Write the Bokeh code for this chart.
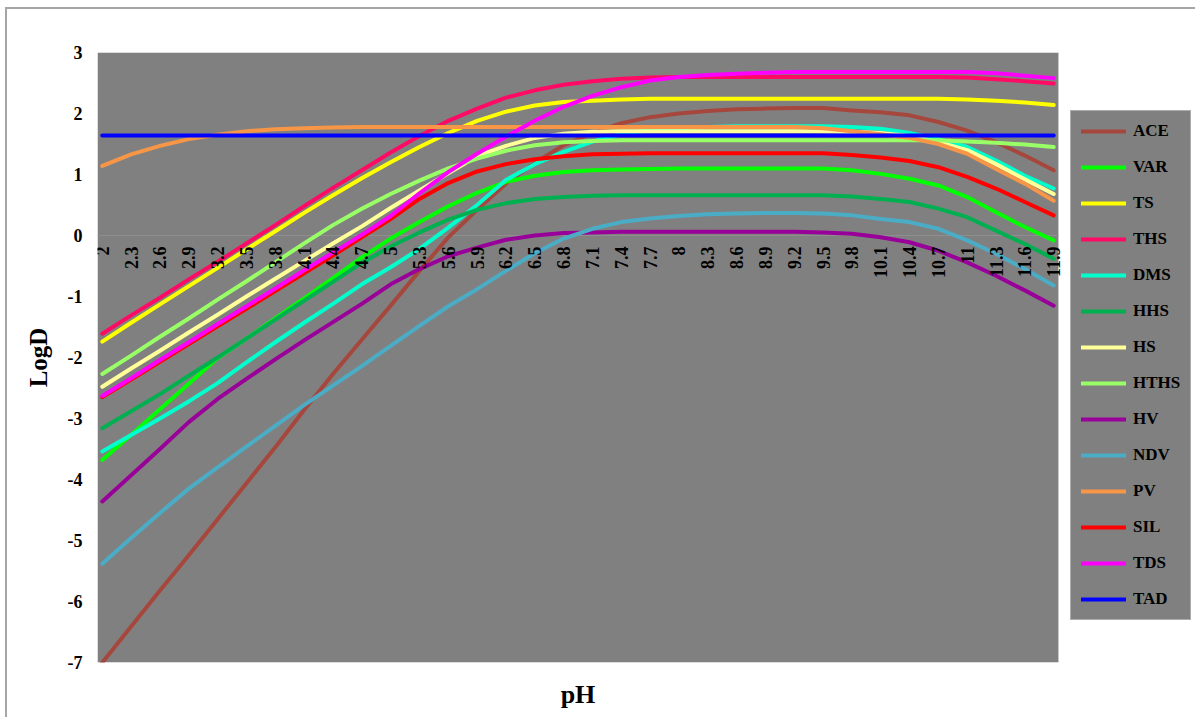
import math
from bokeh.plotting import figure
from bokeh.models import Range1d, FixedTicker, Legend, LegendItem, BoxAnnotation
from bokeh.embed import file_html
from bokeh.resources import INLINE
from bokeh.core.properties import value

# pH values at the labelled category positions
ph = [2.0, 2.3, 2.6, 2.9, 3.2, 3.5, 3.8, 4.1, 4.4, 4.7, 5.0, 5.3, 5.6, 5.9, 6.2, 6.5, 6.8,
      7.1, 7.4, 7.7, 8.0, 8.3, 8.6, 8.9, 9.2, 9.5, 9.8, 10.1, 10.4, 10.7, 11.0, 11.3, 11.6, 11.9]
tick_labels = ["2", "2.3", "2.6", "2.9", "3.2", "3.5", "3.8", "4.1", "4.4", "4.7", "5", "5.3",
               "5.6", "5.9", "6.2", "6.5", "6.8", "7.1", "7.4", "7.7", "8", "8.3", "8.6", "8.9",
               "9.2", "9.5", "9.8", "10.1", "10.4", "10.7", "11", "11.3", "11.6", "11.9"]
y_ticks = [-7, -6, -5, -4, -3, -2, -1, 0, 1, 2, 3]

ACE = [-7.0, -6.41, -5.82, -5.24, -4.65, -4.06, -3.47, -2.86, -2.27, -1.71, -1.15, -0.58, -0.03,
       0.42, 0.85, 1.19, 1.48, 1.68, 1.84, 1.94, 2.0, 2.04, 2.07, 2.08, 2.09, 2.09, 2.05, 2.02,
       1.97, 1.86, 1.72, 1.53, 1.31, 1.07]
VAR = [-3.68, -3.27, -2.85, -2.43, -2.01, -1.69, -1.36, -1.03, -0.70, -0.36, -0.05, 0.22, 0.48,
       0.70, 0.88, 0.98, 1.04, 1.07, 1.08, 1.09, 1.10, 1.10, 1.10, 1.10, 1.10, 1.10, 1.07, 1.01,
       0.93, 0.82, 0.63, 0.38, 0.14, -0.08]
TS = [-1.74, -1.43, -1.13, -0.83, -0.53, -0.23, 0.07, 0.37, 0.66, 0.94, 1.20, 1.45, 1.68, 1.88,
      2.03, 2.13, 2.19, 2.21, 2.23, 2.24, 2.24, 2.24, 2.24, 2.24, 2.24, 2.24, 2.24, 2.24, 2.24,
      2.24, 2.23, 2.21, 2.18, 2.14]
THS = [-1.61, -1.31, -1.02, -0.72, -0.43, -0.13, 0.17, 0.48, 0.78, 1.07, 1.36, 1.63, 1.88, 2.08,
       2.26, 2.38, 2.47, 2.53, 2.57, 2.59, 2.60, 2.60, 2.60, 2.60, 2.60, 2.60, 2.60, 2.60, 2.60,
       2.60, 2.59, 2.56, 2.53, 2.49]
DMS = [-3.54, -3.27, -3.00, -2.72, -2.42, -2.08, -1.75, -1.43, -1.12, -0.80, -0.52, -0.22, 0.13,
       0.50, 0.91, 1.17, 1.37, 1.54, 1.66, 1.73, 1.76, 1.78, 1.79, 1.79, 1.79, 1.79, 1.78, 1.75,
       1.68, 1.58, 1.45, 1.23, 0.98, 0.77]
HHS = [-3.16, -2.88, -2.60, -2.30, -2.00, -1.69, -1.38, -1.07, -0.76, -0.45, -0.18, 0.05, 0.26,
       0.42, 0.53, 0.60, 0.63, 0.65, 0.66, 0.66, 0.66, 0.66, 0.66, 0.66, 0.66, 0.66, 0.64, 0.60,
       0.55, 0.44, 0.30, 0.08, -0.14, -0.38]
HS = [-2.48, -2.18, -1.89, -1.59, -1.30, -1.00, -0.71, -0.42, -0.13, 0.15, 0.45, 0.74, 1.02, 1.30,
      1.47, 1.60, 1.67, 1.70, 1.71, 1.71, 1.71, 1.71, 1.71, 1.71, 1.71, 1.71, 1.70, 1.68, 1.63,
      1.53, 1.40, 1.17, 0.92, 0.68]
HTHS = [-2.27, -1.97, -1.66, -1.36, -1.05, -0.75, -0.44, -0.13, 0.17, 0.44, 0.68, 0.90, 1.10,
        1.26, 1.39, 1.48, 1.53, 1.55, 1.56, 1.56, 1.56, 1.56, 1.56, 1.56, 1.56, 1.56, 1.56, 1.56,
        1.56, 1.56, 1.54, 1.52, 1.49, 1.45]
HV = [-4.36, -3.93, -3.50, -3.06, -2.68, -2.35, -2.03, -1.72, -1.42, -1.12, -0.80, -0.55, -0.34,
      -0.20, -0.07, 0.00, 0.04, 0.05, 0.06, 0.06, 0.06, 0.06, 0.06, 0.06, 0.06, 0.05, 0.03, -0.03,
      -0.11, -0.25, -0.44, -0.66, -0.90, -1.15]
NDV = [-5.38, -4.96, -4.55, -4.15, -3.80, -3.46, -3.12, -2.78, -2.46, -2.14, -1.81, -1.48, -1.16,
       -0.88, -0.58, -0.29, -0.05, 0.11, 0.22, 0.28, 0.32, 0.35, 0.36, 0.37, 0.37, 0.36, 0.33,
       0.27, 0.22, 0.11, -0.08, -0.30, -0.55, -0.82]
PV = [1.14, 1.33, 1.47, 1.58, 1.65, 1.71, 1.74, 1.76, 1.77, 1.78, 1.78, 1.78, 1.78, 1.78, 1.78,
      1.78, 1.78, 1.78, 1.78, 1.78, 1.78, 1.78, 1.78, 1.78, 1.78, 1.76, 1.71, 1.66, 1.60, 1.50,
      1.34, 1.09, 0.85, 0.57]
SIL = [-2.65, -2.36, -2.07, -1.78, -1.49, -1.20, -0.91, -0.62, -0.33, -0.03, 0.27, 0.60, 0.86,
       1.05, 1.17, 1.25, 1.30, 1.33, 1.34, 1.35, 1.35, 1.35, 1.35, 1.35, 1.35, 1.35, 1.32, 1.28,
       1.22, 1.12, 0.96, 0.77, 0.55, 0.33]
TDS = [-2.63, -2.34, -2.04, -1.75, -1.45, -1.16, -0.87, -0.57, -0.28, 0.01, 0.32, 0.69, 1.04,
       1.34, 1.62, 1.88, 2.11, 2.29, 2.43, 2.54, 2.60, 2.63, 2.65, 2.67, 2.68, 2.68, 2.68, 2.68,
       2.68, 2.68, 2.68, 2.66, 2.62, 2.58]
TAD = [1.64, 1.64, 1.64, 1.64, 1.64, 1.64, 1.64, 1.64, 1.64, 1.64, 1.64, 1.64, 1.64, 1.64, 1.64,
       1.64, 1.64, 1.64, 1.64, 1.64, 1.64, 1.64, 1.64, 1.64, 1.64, 1.64, 1.64, 1.64, 1.64, 1.64,
       1.64, 1.64, 1.64, 1.64]

names = ["ACE", "VAR", "TS", "THS", "DMS", "HHS", "HS", "HTHS", "HV", "NDV", "PV", "SIL", "TDS", "TAD"]
data = [ACE, VAR, TS, THS, DMS, HHS, HS, HTHS, HV, NDV, PV, SIL, TDS, TAD]
colors = ["#A6473D", "#00FF00", "#FFFF00", "#FF0A64", "#00FFCC", "#00B050", "#FFFF99",
          "#99FF66", "#990099", "#4BACC6", "#F79646", "#FF0000", "#FF00FF", "#0000FF"]

FONT = "Liberation Serif"

# category axis: 100 categories 2.0 .. 11.9, half a category of padding at each end
X_LO, X_HI = 1.95, 11.95
Y_LO, Y_HI = -7, 3
PX_PER_UNIT = 96.1           # 961 px plot area / 10 pH units
FRAME_W = 1100               # frame runs on to the right edge to hold the legend

p = figure(width=1190, height=710,
           x_range=Range1d(X_LO, X_LO + FRAME_W / PX_PER_UNIT), y_range=Range1d(Y_LO, Y_HI),
           output_backend="svg", toolbar_location=None,
           min_border_left=90, min_border_right=0, min_border_top=43, min_border_bottom=57,
           background_fill_color="white", border_fill_color="white",
           outline_line_color=None)
p.styles = {"margin-left": "5px", "margin-top": "7px",
            "border-left": "2px solid #A6A6A6", "border-top": "2px solid #A6A6A6"}

p.xgrid.visible = False
p.ygrid.visible = False

# grey plot area
p.add_layout(BoxAnnotation(left=X_LO, right=X_HI, bottom=Y_LO, top=Y_HI,
                           fill_color="#808080", fill_alpha=1.0,
                           line_color="#D9D9D9", line_width=1, level="underlay"))

# x axis: the title "pH" centred under the plot area
xa = p.xaxis[0]
xa.ticker = FixedTicker(ticks=[(X_LO + X_HI) / 2])
xa.major_label_overrides = {(X_LO + X_HI) / 2: "pH"}
xa.axis_line_color = None
xa.major_tick_line_color = None
xa.minor_tick_line_color = None
xa.major_tick_out = 0
xa.major_tick_in = 0
xa.major_label_standoff = 17
xa.major_label_text_font = FONT
xa.major_label_text_font_style = "bold"
xa.major_label_text_font_size = "26px"
xa.major_label_text_color = "black"

ya = p.yaxis[0]
ya.ticker = FixedTicker(ticks=y_ticks)
ya.major_label_overrides = {t: str(t) for t in y_ticks}
ya.axis_line_color = None
ya.major_tick_line_color = None
ya.minor_tick_line_color = None
ya.major_tick_out = 0
ya.major_tick_in = 0
ya.major_label_standoff = 15
ya.major_label_text_font = FONT
ya.major_label_text_font_style = "bold"
ya.major_label_text_font_size = "18px"
ya.major_label_text_color = "black"
ya.axis_label = "LogD"
ya.axis_label_standoff = 13
ya.axis_label_text_font = FONT
ya.axis_label_text_font_style = "bold"
ya.axis_label_text_font_size = "25px"
ya.axis_label_text_color = "black"

# category axis line at y = 0
p.segment(x0=X_LO, y0=0, x1=X_HI, y1=0, line_color="#8E8E8E", line_width=1)

items = []
for name, ys, c in zip(names, data, colors):
    r = p.line(ph, ys, line_color=c, line_width=4, line_join="round", line_cap="round")
    items.append(LegendItem(label=name, renderers=[r]))

# category labels hanging below the zero line
p.text(x=ph, y=0, text=tick_labels, angle=math.pi / 2, text_align="right",
       text_baseline="middle", y_offset=11, text_font=value(FONT), text_font_style="bold",
       text_font_size="18px", text_color="black")

legend = Legend(items=items, location=(973, 42), margin=0, padding=10, spacing=16,
                glyph_width=45, glyph_height=20, label_height=20, label_standoff=7,
                background_fill_color="#808080", background_fill_alpha=1,
                border_line_color="#D9D9D9", border_line_width=1,
                label_text_font=FONT, label_text_font_style="bold",
                label_text_font_size="17px", label_text_color="black")
p.add_layout(legend, "center")

open("out.html", "w").write(file_html(p, INLINE))
